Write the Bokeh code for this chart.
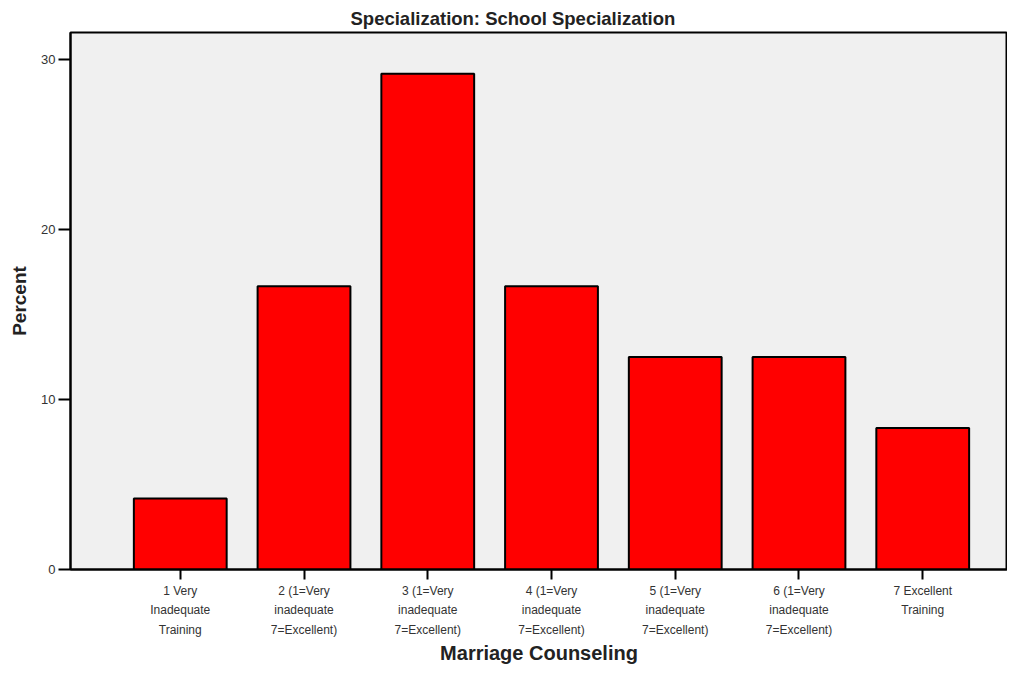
from bokeh.plotting import figure
from bokeh.models import FixedTicker, ColumnDataSource, Range1d
from bokeh.embed import file_html
from bokeh.resources import INLINE

title_text = "Specialization: School Specialization"
x_label = "Marriage Counseling"
y_label = "Percent"
categories = ["1 Very\nInadequate\nTraining",
              "2 (1=Very\ninadequate\n7=Excellent)",
              "3 (1=Very\ninadequate\n7=Excellent)",
              "4 (1=Very\ninadequate\n7=Excellent)",
              "5 (1=Very\ninadequate\n7=Excellent)",
              "6 (1=Very\ninadequate\n7=Excellent)",
              "7 Excellent\nTraining"]
percent = [4.17, 16.67, 29.17, 16.67, 12.5, 12.5, 8.33]
y_ticks = [0, 10, 20, 30]

xs = list(range(1, len(categories) + 1))
src = ColumnDataSource(dict(x=xs, top=percent))

FONT = "Liberation Sans"

p = figure(width=1007, height=666, output_backend="svg", toolbar_location=None,
           x_range=Range1d(0.113, 7.685), y_range=Range1d(0, 31.59),
           min_border_left=70, min_border_top=32, min_border_bottom=97,
           min_border_right=0)

p.vbar(x="x", top="top", width=0.75, source=src, fill_color="#ff0000",
       line_color="black", line_width=2)

p.title.text = title_text
p.title.align = "left"
p.title.offset = 280
p.title.standoff = 8
p.title.text_font = FONT
p.title.text_font_size = "18.5px"
p.title.text_font_style = "bold"
p.title.text_color = "#222222"

p.background_fill_color = "#f0f0f0"
p.border_fill_color = "white"
p.outline_line_color = "black"
p.outline_line_width = 2
p.xgrid.grid_line_color = None
p.ygrid.grid_line_color = None

p.xaxis.ticker = FixedTicker(ticks=xs)
p.xaxis.major_label_overrides = {x: c for x, c in zip(xs, categories)}
p.xaxis.major_label_text_font = FONT
p.xaxis.major_label_text_font_size = "12px"
p.xaxis.major_label_text_color = "#333333"
p.xaxis.major_label_text_line_height = 1.4
p.xaxis.major_label_standoff = 4
p.xaxis.major_tick_out = 10
p.xaxis.major_tick_in = 0
p.xaxis.minor_tick_line_color = None
p.xaxis.axis_line_width = 2
p.xaxis.major_tick_line_width = 2
p.xaxis.axis_label = x_label
p.xaxis.axis_label_text_font = FONT
p.xaxis.axis_label_text_font_size = "20px"
p.xaxis.axis_label_text_font_style = "bold"
p.xaxis.axis_label_text_color = "#222222"
p.xaxis.axis_label_standoff = 2

p.yaxis.ticker = FixedTicker(ticks=y_ticks)
p.yaxis.major_label_text_font = FONT
p.yaxis.major_label_text_font_size = "13px"
p.yaxis.major_label_text_color = "#333333"
p.yaxis.major_tick_out = 12
p.yaxis.major_tick_in = 0
p.yaxis.minor_tick_line_color = None
p.yaxis.axis_line_width = 2
p.yaxis.major_tick_line_width = 2
p.yaxis.major_label_standoff = 3
p.yaxis.axis_label = y_label
p.yaxis.axis_label_text_font = FONT
p.yaxis.axis_label_text_font_size = "19px"
p.yaxis.axis_label_text_font_style = "bold"
p.yaxis.axis_label_text_color = "#222222"
p.yaxis.axis_label_standoff = 8

open("out.html", "w").write(file_html(p, INLINE))
